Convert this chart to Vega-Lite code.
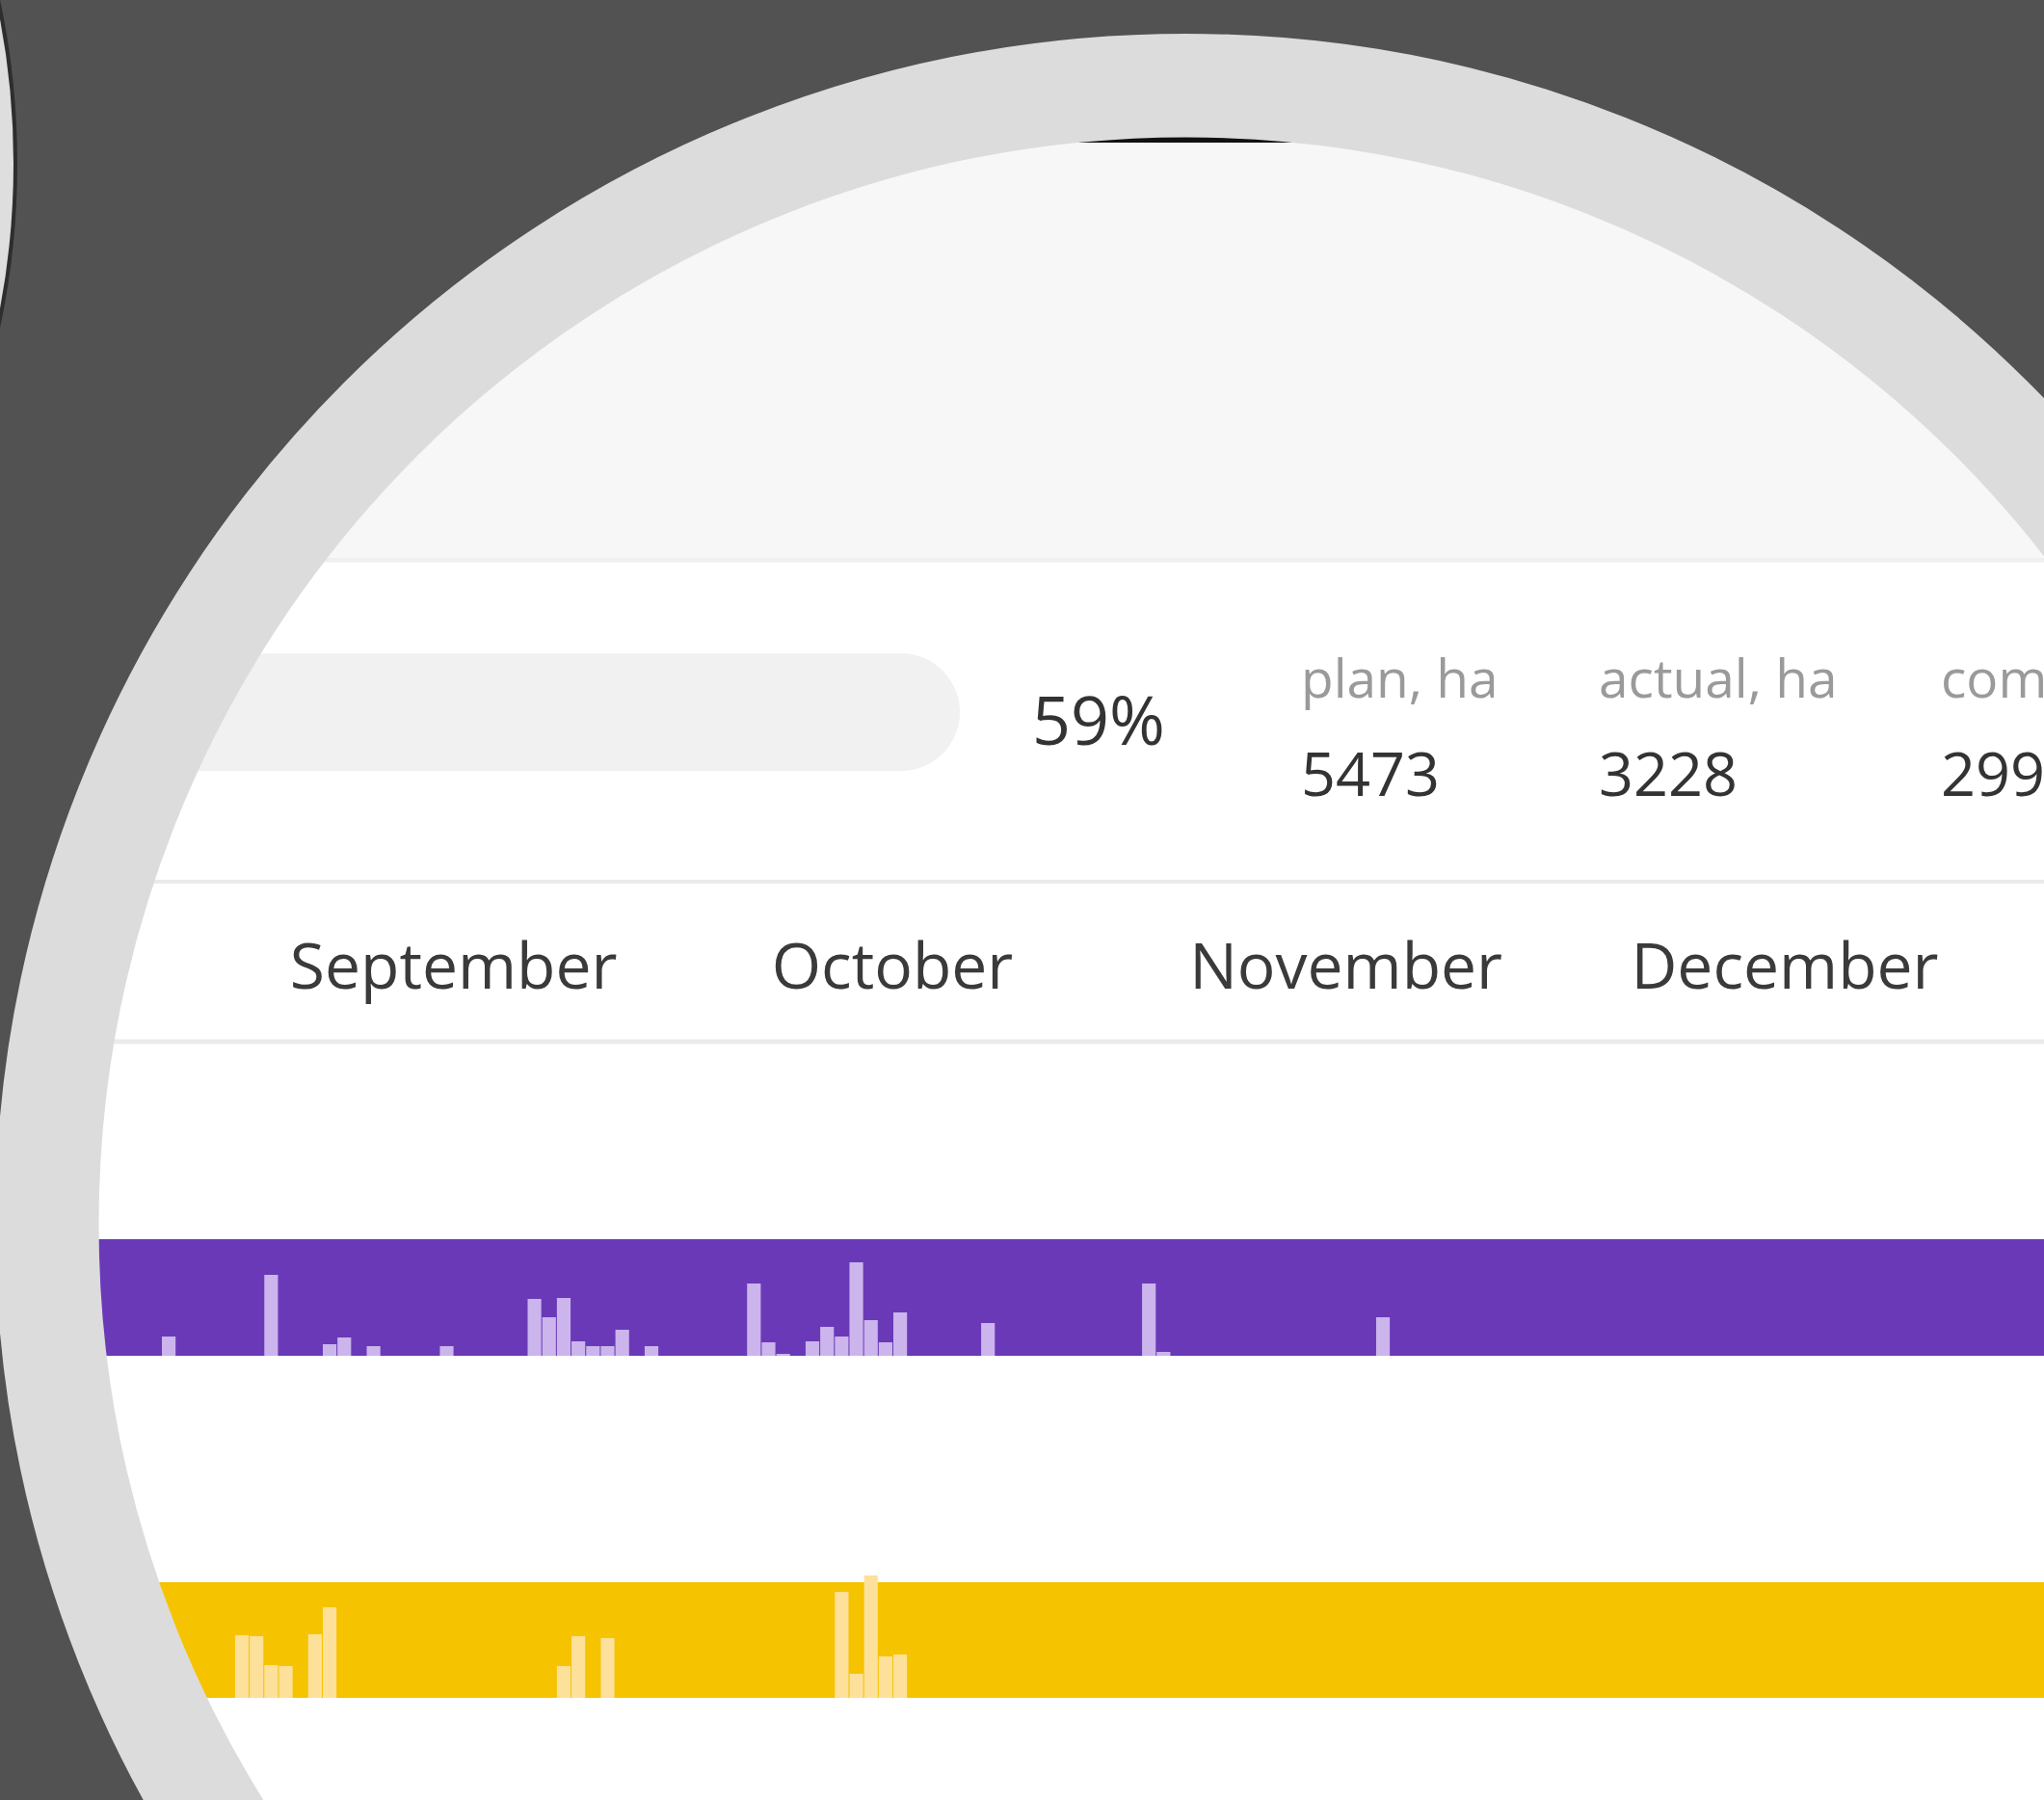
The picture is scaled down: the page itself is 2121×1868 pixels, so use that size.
{
"$schema":"https://vega.github.io/schema/vega-lite/v6.json",
"width":2121,"height":1868,"padding":0,"autosize":{"type":"none"},
"background":"#525252",
"config":{"view":{"stroke":null},"text":{"font":"Open Sans"}},
"datasets":{
 "stats":[{"metric":"progress","value":"59%"},{"metric":"plan, ha","value":"5473"},{"metric":"actual, ha","value":"3228"},{"metric":"completed, ha","value":"2991"}],
 "months":[{"month":"September","date":"2023-09-16"},{"month":"October","date":"2023-10-16"},{"month":"November","date":"2023-11-16"},{"month":"December","date":"2023-12-16"}],
 "purple":[{"date":"2023-08-27","ha":20},{"date":"2023-09-03","ha":84},{"date":"2023-09-07","ha":12},{"date":"2023-09-08","ha":19},{"date":"2023-09-10","ha":10},{"date":"2023-09-15","ha":10},{"date":"2023-09-21","ha":59},{"date":"2023-09-22","ha":40},{"date":"2023-09-23","ha":60},{"date":"2023-09-24","ha":15},{"date":"2023-09-25","ha":10},{"date":"2023-09-26","ha":10},{"date":"2023-09-27","ha":27},{"date":"2023-09-29","ha":10},{"date":"2023-10-06","ha":75},{"date":"2023-10-07","ha":14},{"date":"2023-10-08","ha":2},{"date":"2023-10-10","ha":15},{"date":"2023-10-11","ha":30},{"date":"2023-10-12","ha":20},{"date":"2023-10-13","ha":97},{"date":"2023-10-14","ha":37},{"date":"2023-10-15","ha":14},{"date":"2023-10-16","ha":45},{"date":"2023-10-22","ha":34},{"date":"2023-11-02","ha":75},{"date":"2023-11-03","ha":4},{"date":"2023-11-18","ha":40}],
 "yellow":[{"date":"2023-09-01","ha":65},{"date":"2023-09-02","ha":64},{"date":"2023-09-03","ha":34},{"date":"2023-09-04","ha":33},{"date":"2023-09-06","ha":66},{"date":"2023-09-07","ha":94},{"date":"2023-09-23","ha":33},{"date":"2023-09-24","ha":64},{"date":"2023-09-26","ha":62},{"date":"2023-10-12","ha":110},{"date":"2023-10-13","ha":25},{"date":"2023-10-14","ha":127},{"date":"2023-10-15","ha":43},{"date":"2023-10-16","ha":45}]
},
"resolve":{"scale":{"x":"independent","y":"independent"}},
"layer":[
 {"data":{"values":[{}]},"mark":{"type":"rect","color":"#ffffff"},"encoding":{"x":{"datum":0,"type":"quantitative","scale":{"domain":[0,2121],"range":[0,2121],"nice":false},"axis":null},"x2":{"datum":2121},"y":{"datum":0,"type":"quantitative","scale":{"domain":[0,1868],"range":[0,1868],"nice":false},"axis":null},"y2":{"datum":1868}}},
 {"data":{"values":[{}]},"mark":{"type":"rect","color":"#f7f7f7"},"encoding":{"x":{"datum":0,"type":"quantitative","scale":{"domain":[0,2121],"range":[0,2121],"nice":false},"axis":null},"x2":{"datum":2121},"y":{"datum":0,"type":"quantitative","scale":{"domain":[0,1868],"range":[0,1868],"nice":false},"axis":null},"y2":{"datum":578}}},
 {"data":{"values":[{}]},"mark":{"type":"rule","color":"#efefef","strokeWidth":5},"encoding":{"x":{"datum":0,"type":"quantitative","scale":{"domain":[0,2121],"range":[0,2121],"nice":false},"axis":null},"x2":{"datum":2121},"y":{"datum":581,"type":"quantitative","scale":{"domain":[0,1868],"range":[0,1868],"nice":false},"axis":null}}},
 {"data":{"values":[{}]},"mark":{"type":"rect","color":"#f1f1f1","cornerRadius":61},"encoding":{"x":{"datum":-200,"type":"quantitative","scale":{"domain":[0,2121],"range":[0,2121],"nice":false},"axis":null},"x2":{"datum":996},"y":{"datum":678,"type":"quantitative","scale":{"domain":[0,1868],"range":[0,1868],"nice":false},"axis":null},"y2":{"datum":800}}},
 {"data":{"values":[{}]},"mark":{"type":"rect","color":"#111111"},"encoding":{"x":{"datum":1120,"type":"quantitative","scale":{"domain":[0,2121],"range":[0,2121],"nice":false},"axis":null},"x2":{"datum":1343},"y":{"datum":60,"type":"quantitative","scale":{"domain":[0,1868],"range":[0,1868],"nice":false},"axis":null},"y2":{"datum":148}}},
 {"data":{"values":[{}]},"mark":{"type":"rule","color":"#ebebeb","strokeWidth":4},"encoding":{"x":{"datum":0,"type":"quantitative","scale":{"domain":[0,2121],"range":[0,2121],"nice":false},"axis":null},"x2":{"datum":2121},"y":{"datum":915,"type":"quantitative","scale":{"domain":[0,1868],"range":[0,1868],"nice":false},"axis":null}}},
 {"data":{"values":[{}]},"mark":{"type":"rule","color":"#ebebeb","strokeWidth":5},"encoding":{"x":{"datum":0,"type":"quantitative","scale":{"domain":[0,2121],"range":[0,2121],"nice":false},"axis":null},"x2":{"datum":2121},"y":{"datum":1081,"type":"quantitative","scale":{"domain":[0,1868],"range":[0,1868],"nice":false},"axis":null}}},
 {"data":{"values":[{}]},"mark":{"type":"rect","color":"#6a39b8"},"encoding":{"x":{"datum":0,"type":"quantitative","scale":{"domain":[0,2121],"range":[0,2121],"nice":false},"axis":null},"x2":{"datum":2121},"y":{"datum":1286,"type":"quantitative","scale":{"domain":[0,1868],"range":[0,1868],"nice":false},"axis":null},"y2":{"datum":1407}}},
 {"data":{"name":"purple"},"mark":{"type":"bar","color":"#cbb5ec"},"encoding":{"x":{"field":"date","type":"temporal","timeUnit":"utcyearmonthdate","scale":{"type":"utc","domain":[{"year":2023,"month":9,"date":1,"utc":true},{"year":2024,"month":1,"date":1,"utc":true}],"range":[242.9,2094.9]},"axis":null},"y":{"field":"ha","type":"quantitative","scale":{"domain":[0,121],"range":[1407,1286],"nice":false},"axis":null}}},
 {"data":{"values":[{}]},"mark":{"type":"rect","color":"#f6c300"},"encoding":{"x":{"datum":0,"type":"quantitative","scale":{"domain":[0,2121],"range":[0,2121],"nice":false},"axis":null},"x2":{"datum":2121},"y":{"datum":1642,"type":"quantitative","scale":{"domain":[0,1868],"range":[0,1868],"nice":false},"axis":null},"y2":{"datum":1762}}},
 {"data":{"name":"yellow"},"mark":{"type":"bar","color":"#fde09a"},"encoding":{"x":{"field":"date","type":"temporal","timeUnit":"utcyearmonthdate","scale":{"type":"utc","domain":[{"year":2023,"month":9,"date":1,"utc":true},{"year":2024,"month":1,"date":1,"utc":true}],"range":[242.9,2094.9]},"axis":null},"y":{"field":"ha","type":"quantitative","scale":{"domain":[0,120],"range":[1762,1642],"nice":false},"axis":null}}},
 {"data":{"name":"months"},"mark":{"type":"text","fontSize":66,"color":"#3a3a3a","align":"center","baseline":"alphabetic"},"encoding":{"x":{"field":"date","type":"temporal","scale":{"type":"utc","domain":[{"year":2023,"month":9,"date":1,"utc":true},{"year":2024,"month":1,"date":1,"utc":true}],"range":[242.9,2094.9]},"axis":null},"y":{"datum":1026,"type":"quantitative","scale":{"domain":[0,1868],"range":[0,1868],"nice":false},"axis":null},"text":{"field":"month"}}},
 {"data":{"name":"stats"},"transform":[{"filter":"datum.metric === 'progress'"}],"mark":{"type":"text","fontSize":70,"color":"#333333","align":"left","baseline":"alphabetic"},"encoding":{"x":{"datum":1071,"type":"quantitative","scale":{"domain":[0,2121],"range":[0,2121],"nice":false},"axis":null},"y":{"datum":773,"type":"quantitative","scale":{"domain":[0,1868],"range":[0,1868],"nice":false},"axis":null},"text":{"field":"value"}}},
 {"data":{"name":"stats"},"transform":[{"filter":"datum.metric === 'plan, ha'"}],"mark":{"type":"text","fontSize":55,"color":"#9a9a9a","align":"left","baseline":"alphabetic"},"encoding":{"x":{"datum":1350,"type":"quantitative","scale":{"domain":[0,2121],"range":[0,2121],"nice":false},"axis":null},"y":{"datum":724,"type":"quantitative","scale":{"domain":[0,1868],"range":[0,1868],"nice":false},"axis":null},"text":{"field":"metric"}}},
 {"data":{"name":"stats"},"transform":[{"filter":"datum.metric === 'actual, ha'"}],"mark":{"type":"text","fontSize":55,"color":"#9a9a9a","align":"left","baseline":"alphabetic"},"encoding":{"x":{"datum":1659,"type":"quantitative","scale":{"domain":[0,2121],"range":[0,2121],"nice":false},"axis":null},"y":{"datum":724,"type":"quantitative","scale":{"domain":[0,1868],"range":[0,1868],"nice":false},"axis":null},"text":{"field":"metric"}}},
 {"data":{"name":"stats"},"transform":[{"filter":"datum.metric === 'completed, ha'"}],"mark":{"type":"text","fontSize":55,"color":"#9a9a9a","align":"left","baseline":"alphabetic"},"encoding":{"x":{"datum":2014,"type":"quantitative","scale":{"domain":[0,2121],"range":[0,2121],"nice":false},"axis":null},"y":{"datum":724,"type":"quantitative","scale":{"domain":[0,1868],"range":[0,1868],"nice":false},"axis":null},"text":{"field":"metric"}}},
 {"data":{"name":"stats"},"transform":[{"filter":"datum.metric === 'plan, ha'"}],"mark":{"type":"text","fontSize":63,"color":"#333333","align":"left","baseline":"alphabetic"},"encoding":{"x":{"datum":1350,"type":"quantitative","scale":{"domain":[0,2121],"range":[0,2121],"nice":false},"axis":null},"y":{"datum":826,"type":"quantitative","scale":{"domain":[0,1868],"range":[0,1868],"nice":false},"axis":null},"text":{"field":"value"}}},
 {"data":{"name":"stats"},"transform":[{"filter":"datum.metric === 'actual, ha'"}],"mark":{"type":"text","fontSize":63,"color":"#333333","align":"left","baseline":"alphabetic"},"encoding":{"x":{"datum":1659,"type":"quantitative","scale":{"domain":[0,2121],"range":[0,2121],"nice":false},"axis":null},"y":{"datum":826,"type":"quantitative","scale":{"domain":[0,1868],"range":[0,1868],"nice":false},"axis":null},"text":{"field":"value"}}},
 {"data":{"name":"stats"},"transform":[{"filter":"datum.metric === 'completed, ha'"}],"mark":{"type":"text","fontSize":63,"color":"#333333","align":"left","baseline":"alphabetic"},"encoding":{"x":{"datum":2014,"type":"quantitative","scale":{"domain":[0,2121],"range":[0,2121],"nice":false},"axis":null},"y":{"datum":826,"type":"quantitative","scale":{"domain":[0,1868],"range":[0,1868],"nice":false},"axis":null},"text":{"field":"value"}}},
 {"data":{"values":[{}]},"mark":{"type":"point","shape":"circle","filled":false,"stroke":"#dcdcdc","strokeWidth":135,"size":5721664,"opacity":1,"strokeOpacity":1},"encoding":{"x":{"datum":1231,"type":"quantitative","scale":{"domain":[0,2121],"range":[0,2121],"nice":false},"axis":null},"y":{"datum":1271,"type":"quantitative","scale":{"domain":[0,1868],"range":[0,1868],"nice":false},"axis":null}}},
 {"data":{"values":[{}]},"mark":{"type":"point","shape":"circle","filled":false,"stroke":"#525252","strokeWidth":3000,"size":29942784,"opacity":1,"strokeOpacity":1},"encoding":{"x":{"datum":1231,"type":"quantitative","scale":{"domain":[0,2121],"range":[0,2121],"nice":false},"axis":null},"y":{"datum":1271,"type":"quantitative","scale":{"domain":[0,1868],"range":[0,1868],"nice":false},"axis":null}}},
 {"data":{"values":[{}]},"mark":{"type":"point","shape":"circle","filled":true,"fill":"#dedede","stroke":"#2e2e2e","strokeWidth":4,"size":2611456,"opacity":1,"fillOpacity":1},"encoding":{"x":{"datum":-792,"type":"quantitative","scale":{"domain":[0,2121],"range":[0,2121],"nice":false},"axis":null},"y":{"datum":170,"type":"quantitative","scale":{"domain":[0,1868],"range":[0,1868],"nice":false},"axis":null}}}
]
}
